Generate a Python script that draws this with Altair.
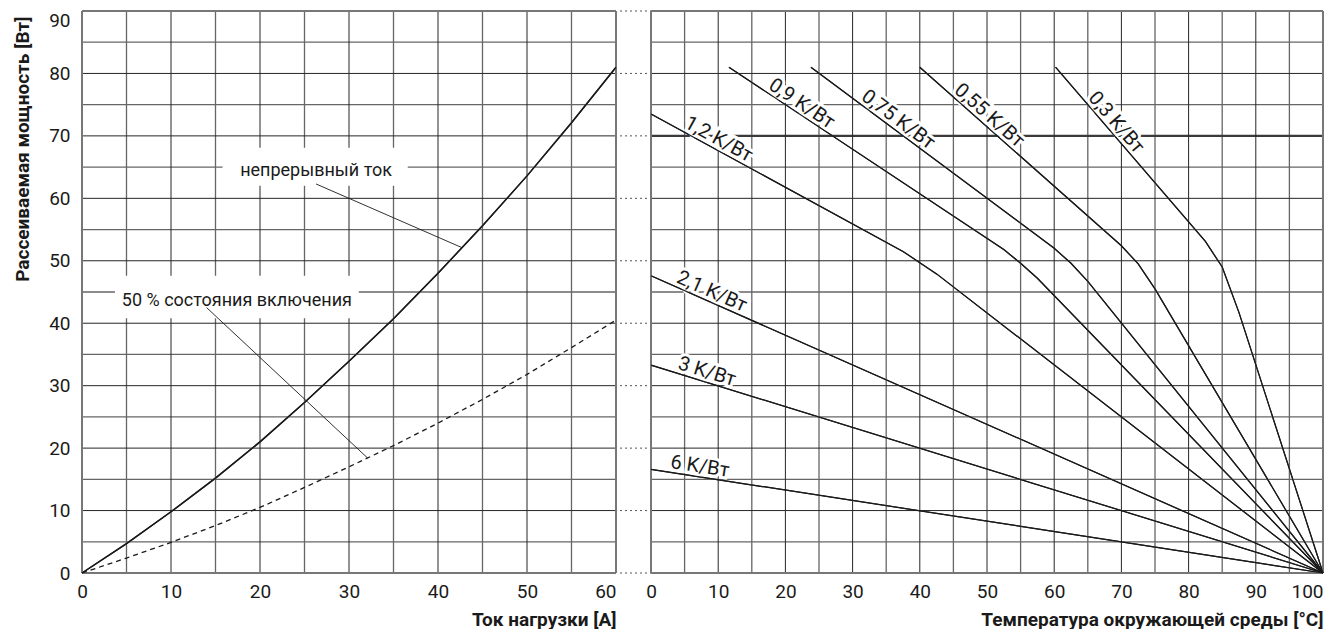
import altair as alt
import pandas as pd

FONT = "Roboto"
INK = "#1a1a1a"

# ---------------- left panel: power vs load current ----------------
current_a = [0, 5, 10, 15, 20, 25, 30, 35, 40, 45, 50, 55, 60]
power_continuous = [0, 4.7, 9.8, 15.2, 21.0, 27.3, 33.9, 40.7, 48.0, 55.6, 63.6, 72.1, 81.0]
power_half_duty = [0, 2.4, 4.9, 7.6, 10.5, 13.7, 17.0, 20.4, 24.0, 27.8, 31.8, 36.1, 40.5]

left_x_ticks = [0, 10, 20, 30, 40, 50, 60]
left_x_minor = [5, 15, 25, 35, 45, 55]
y_ticks = [0, 10, 20, 30, 40, 50, 60, 70, 80, 90]
y_minor = [5, 15, 25, 35, 45, 55, 65, 75, 85]

annot_text = ["непрерывный ток", "50 % состояния включения"]
annot_x = [26.3, 17.4]
annot_y = [63.6, 42.8]
box_x1 = [15.8, 3.7]
box_x2 = [36.6, 31.1]
box_y1 = [62.0, 40.8]
box_y2 = [68.1, 47.6]
leader_x1 = [26.3, 14.0]
leader_y1 = [62.3, 42.5]
leader_x2 = [42.7, 32.1]
leader_y2 = [52.1, 18.4]

# ---------------- right panel: power vs ambient temperature ----------------
right_x_ticks = [0, 10, 20, 30, 40, 50, 60, 70, 80, 90, 100]
right_x_minor = [5, 15, 25, 35, 45, 55, 65, 75, 85, 95]

series_names = ["1,2 K/Вт", "0,9 K/Вт", "0,75 K/Вт", "0,55 K/Вт", "0,3 K/Вт",
                "2,1 K/Вт", "3 K/Вт", "6 K/Вт"]
t_12 = [0, 37.5, 40.0, 42.5, 100]
p_12 = [73.5, 51.5, 49.7, 47.9, 0]
t_09 = [11.6, 52.5, 55.0, 57.5, 100]
p_09 = [81.0, 51.8, 49.6, 47.2, 0]
t_075 = [23.8, 60.0, 62.5, 65.0, 100]
p_075 = [81.0, 52.0, 49.6, 46.7, 0]
t_055 = [40.0, 70.0, 72.5, 75.0, 100]
p_055 = [81.0, 52.4, 49.5, 45.5, 0]
t_03 = [60.2, 82.5, 85.0, 87.5, 100]
p_03 = [81.0, 53.1, 49.0, 41.7, 0]
t_21 = [0, 100]
p_21 = [47.6, 0]
t_3 = [0, 100]
p_3 = [33.3, 0]
t_6 = [0, 100]
p_6 = [16.6, 0]

label_t = [4.5, 17.0, 30.8, 44.6, 64.5, 3.4, 3.7, 2.7]
label_p = [70.9, 77.1, 75.4, 76.6, 75.6, 46.0, 32.1, 16.2]
label_angle = [28.7, 33.6, 36.6, 41.5, 49.3, 23.9, 17.2, 8.8]

W_L, W_R, H = 534, 672, 562

# ---------------- frames ----------------
df_left = pd.DataFrame({"a": current_a, "p_cont": power_continuous, "p_half": power_half_duty})
df_annot = pd.DataFrame({"txt": annot_text, "x": annot_x, "y": annot_y,
                         "bx1": box_x1, "bx2": box_x2, "by1": box_y1, "by2": box_y2,
                         "lx1": leader_x1, "ly1": leader_y1, "lx2": leader_x2, "ly2": leader_y2})

curve_t = [t_12, t_09, t_075, t_055, t_03, t_21, t_3, t_6]
curve_p = [p_12, p_09, p_075, p_055, p_03, p_21, p_3, p_6]
rows = []
for name, ts, ps in zip(series_names, curve_t, curve_p):
    for t, p in zip(ts, ps):
        rows.append({"series": name, "t": t, "p": p})
df_right = pd.DataFrame(rows)
df_labels = pd.DataFrame({"txt": series_names, "t": label_t, "p": label_p, "ang": label_angle})

y_scale = alt.Scale(domain=[0, 90], nice=False, zero=False)
xl_scale = alt.Scale(domain=[0, 60], nice=False, zero=False)
xr_scale = alt.Scale(domain=[0, 100], nice=False, zero=False)

y_axis = alt.Axis(
    values=y_ticks, grid=False, domain=False, ticks=False,
    labelFont=FONT, labelFontSize=19, labelColor=INK, labelPadding=12,
    labelBaseline={"condition": {"test": "datum.value == 90", "value": "top"}, "value": "middle"},
    title="Рассеиваемая мощность [Вт]", titleFont=FONT, titleFontSize=19,
    titleFontWeight="bold", titleColor=INK, titleX=-54, titleY=5,
    titleAlign="right", titleBaseline="alphabetic",
)


def x_axis(values, last, title):
    return alt.Axis(
        values=values, grid=False, domain=False, ticks=False, labelOverlap=False,
        labelFont=FONT, labelFontSize=19, labelColor=INK, labelPadding=9,
        labelAlign={"condition": {"test": f"datum.value == {last}", "value": "right"},
                    "value": "center"},
        title=title, titleFont=FONT, titleFontSize=19, titleFontWeight="bold",
        titleColor=INK, titleAnchor="end", titlePadding=9,
    )


def hrules(vals, color, width):
    return alt.Chart(pd.DataFrame({"v": vals})).mark_rule(color=color, strokeWidth=width).encode(
        y=alt.Y("v:Q", scale=y_scale))


def vrules(vals, scale, color, width):
    return alt.Chart(pd.DataFrame({"v": vals})).mark_rule(color=color, strokeWidth=width).encode(
        x=alt.X("v:Q", scale=scale))


MINOR = "#666666"
MAJOR = "#262626"
BORDER = "#777777"

# ---------------- left panel ----------------
left_cont = alt.Chart(df_left).mark_line(color=INK, strokeWidth=1.4).encode(
    x=alt.X("a:Q", scale=xl_scale, axis=x_axis(left_x_ticks, 60, "Ток нагрузки [A]")),
    y=alt.Y("p_cont:Q", scale=y_scale, axis=y_axis))
left_half = alt.Chart(df_left).mark_line(color=INK, strokeWidth=1.3, strokeDash=[5, 4]).encode(
    x=alt.X("a:Q", scale=xl_scale),
    y=alt.Y("p_half:Q", scale=y_scale))

boxes = alt.Chart(df_annot).mark_rect(color="white").encode(
    x=alt.X("bx1:Q", scale=xl_scale), x2="bx2:Q",
    y=alt.Y("by1:Q", scale=y_scale), y2="by2:Q")
annots = alt.Chart(df_annot).mark_text(
    font=FONT, fontSize=18, color=INK, align="center", baseline="alphabetic").encode(
    x=alt.X("x:Q", scale=xl_scale), y=alt.Y("y:Q", scale=y_scale),
    text="txt:N")
leaders = alt.Chart(df_annot).mark_rule(color=INK, strokeWidth=0.9).encode(
    x=alt.X("lx1:Q", scale=xl_scale), y=alt.Y("ly1:Q", scale=y_scale),
    x2="lx2:Q", y2="ly2:Q")

left = alt.layer(
    left_cont,
    hrules(y_minor, MINOR, 1.3),
    vrules(left_x_minor, xl_scale, MINOR, 1.3),
    hrules(y_ticks[1:-1], MAJOR, 1),
    vrules(left_x_ticks[1:-1], xl_scale, MAJOR, 1),
    hrules([0, 90], BORDER, 2),
    vrules([0, 60], xl_scale, BORDER, 2),
    boxes, annots, leaders, left_half, left_cont,
).properties(width=W_L, height=H)

# ---------------- right panel ----------------
curves = alt.Chart(df_right).mark_line(color=INK, strokeWidth=1.2).encode(
    x=alt.X("t:Q", scale=xr_scale,
            axis=x_axis(right_x_ticks, 100, "Температура окружающей среды [°C]")),
    y=alt.Y("p:Q", scale=y_scale, axis=alt.Axis(labels=False, ticks=False, domain=False,
                                                grid=False, title=None)),
    detail="series:N",
)
gap = alt.Chart(pd.DataFrame({"v": y_ticks})).mark_rule(
    color="#555555", strokeWidth=1, strokeDash=[2, 3]).encode(
    x=alt.value(-31), x2=alt.value(0), y=alt.Y("v:Q", scale=y_scale))

label_enc = dict(
    x=alt.X("t:Q", scale=xr_scale), y=alt.Y("p:Q", scale=y_scale),
    text="txt:N", angle=alt.Angle("ang:Q", scale=None))
halo = alt.Chart(df_labels).mark_text(
    font=FONT, fontSize=20, align="left", baseline="alphabetic", dy=-4,
    fill="white", stroke="white", strokeWidth=6).encode(**label_enc)
labels = alt.Chart(df_labels).mark_text(
    font=FONT, fontSize=20, align="left", baseline="alphabetic", dy=-4,
    color=INK).encode(**label_enc)

right = alt.layer(
    curves,
    gap,
    hrules(y_minor, MINOR, 1.3),
    vrules(right_x_minor, xr_scale, MINOR, 1.3),
    hrules([10, 20, 30, 40, 50, 60, 80], MAJOR, 1),
    hrules([70], "#3a3a3a", 2.4),
    vrules(right_x_ticks[1:-1], xr_scale, MAJOR, 1),
    hrules([0, 90], BORDER, 2),
    vrules([0, 100], xr_scale, BORDER, 2),
    halo, curves, labels,
).properties(width=W_R, height=H)

chart = alt.hconcat(left, right, spacing=0).properties(
    padding={"left": 4, "top": 2, "right": 0, "bottom": 0}
).configure_view(stroke=None)

chart.save("out.html", embed_options={"renderer": "svg", "actions": False})
